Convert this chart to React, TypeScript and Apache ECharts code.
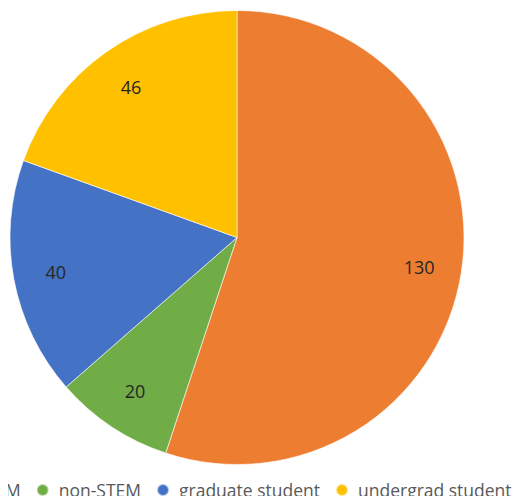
import React, { useEffect, useRef } from "react";
import * as echarts from "echarts";

const categories = ["STEM", "non-STEM", "graduate student", "undergrad student"];
const values = [130, 20, 40, 46];
const colors = ["#ED7D31", "#70AD47", "#4472C4", "#FFC000"];

export default function App() {
  const ref = useRef<HTMLDivElement>(null);
  useEffect(() => {
    if (!ref.current) return;
    const chart = echarts.init(ref.current, null, { renderer: "svg" });
    const data = categories.map((name, i) => ({
      name,
      value: values[i],
      itemStyle: { color: colors[i] },
    }));
    chart.setOption({
      animation: false,
      legend: {
        data: categories,
        left: -52,
        top: 476,
        width: 800,
        icon: "circle",
        itemWidth: 22,
        itemHeight: 12,
        itemGap: 15,
        textStyle: { fontFamily: "Open Sans", fontSize: 17.5, color: "#595959" },
      },
      series: [
        {
          type: "pie",
          center: [237, 237.5],
          radius: [0, 227],
          startAngle: 90,
          clockwise: true,
          silent: true,
          label: { show: false },
          labelLine: { show: false },
          itemStyle: { borderColor: "rgba(255,255,255,0.6)", borderWidth: 1 },
          data,
        },
        {
          type: "pie",
          center: [237, 237.5],
          radius: [136, 227],
          startAngle: 90,
          clockwise: true,
          silent: true,
          label: {
            show: true,
            position: "inside",
            formatter: "{c}",
            fontFamily: "Open Sans",
            fontSize: 18,
            color: "#262626",
          },
          labelLine: { show: false },
          itemStyle: { color: "rgba(0,0,0,0)" },
          data: categories.map((name, i) => ({ name, value: values[i] })),
        },
      ],
    });
    return () => chart.dispose();
  }, []);
  return <div ref={ref} style={{ width: 528, height: 504, margin: -8 }} />;
}
